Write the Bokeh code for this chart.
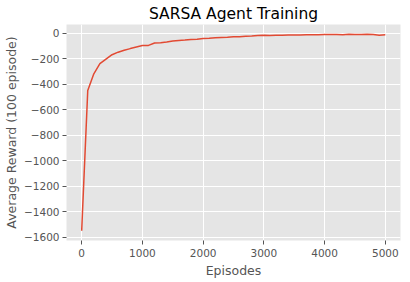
from bokeh.plotting import figure
from bokeh.models import Range1d, FixedTicker
from bokeh.embed import file_html
from bokeh.resources import INLINE

episodes = list(range(0, 5001, 100))
avg_reward = [-1550, -450, -320, -240, -205, -170, -150, -135, -122, -110,
              -98, -97, -78, -76, -70, -63, -58, -55, -50, -48,
              -42, -40, -37, -35, -33, -30, -29, -25, -24, -20,
              -18, -20, -17, -18, -16, -15, -15, -14, -13, -14,
              -12, -12, -11, -13, -10, -12, -11, -10, -12, -17, -14]
x_ticks = [0, 1000, 2000, 3000, 4000, 5000]
y_ticks = [0, -200, -400, -600, -800, -1000, -1200, -1400, -1600]

FONT = "DejaVu Sans"
xmin, xmax = min(episodes), max(episodes)
ymin, ymax = min(avg_reward), max(avg_reward)
xm = (xmax - xmin) * 0.05
ym = (ymax - ymin) * 0.05

p = figure(width=410, height=282, output_backend="svg", toolbar_location=None,
           x_range=Range1d(xmin - xm, xmax + xm), y_range=Range1d(ymin - ym, ymax + ym),
           min_border_left=66, min_border_right=10, min_border_top=24, min_border_bottom=42)
p.title.text = "SARSA Agent Training"
p.title.align = "center"
p.title.text_font = FONT
p.title.text_font_size = "15.5px"
p.title.text_font_style = "normal"
p.title.text_color = "#000000"
p.title.offset = 0
p.title.standoff = 3

p.background_fill_color = "#E5E5E5"
p.border_fill_color = "white"
p.outline_line_color = None
p.xgrid.grid_line_color = "white"
p.ygrid.grid_line_color = "white"
p.xgrid.grid_line_width = 1
p.ygrid.grid_line_width = 1

for ax in (p.xaxis[0], p.yaxis[0]):
    ax.axis_line_color = None
    ax.major_tick_line_color = "#555555"
    ax.major_tick_out = 4
    ax.major_tick_in = 0
    ax.minor_tick_line_color = None
    ax.major_label_text_font = FONT
    ax.major_label_text_font_size = "10.5px"
    ax.major_label_text_color = "#555555"
    ax.axis_label_text_font = FONT
    ax.axis_label_text_font_size = "12.5px"
    ax.axis_label_text_font_style = "normal"
    ax.axis_label_text_color = "#555555"

p.xaxis.ticker = FixedTicker(ticks=x_ticks)
p.yaxis.ticker = FixedTicker(ticks=y_ticks)
p.yaxis.major_label_overrides = {t: (("\u2212" + str(-t)) if t < 0 else str(t)) for t in y_ticks}
p.xaxis.axis_label = "Episodes"
p.yaxis.axis_label = "Average Reward (100 episode)"
p.xaxis.major_label_standoff = 4
p.yaxis.major_label_standoff = 3
p.xaxis.axis_label_standoff = 3
p.yaxis.axis_label_standoff = 2

p.line(episodes, avg_reward, line_color="#E24A33", line_width=1.5)

open("out.html", "w").write(file_html(p, INLINE))
